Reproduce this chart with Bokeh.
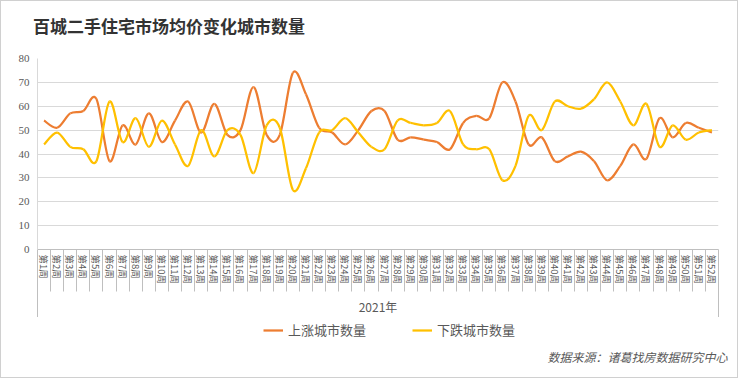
import numpy as np
from bokeh.plotting import figure
from bokeh.layouts import column
from bokeh.models import (FixedTicker, Range1d, Legend, LegendItem, Title, LinearAxis,
                          CustomJSTickFormatter, Div)
from bokeh.embed import file_html
from bokeh.resources import INLINE

# ---------------- data ----------------
weeks = list(range(1, 53))
week_labels = [f"第{w}周" for w in weeks]
year_label = "2021年"
series_names = ["上涨城市数量", "下跌城市数量"]
up_counts = [54, 51, 57, 58, 63, 37, 52, 44, 57, 45, 54, 62, 49, 61, 48, 50, 68, 48, 48, 74,
             65, 51, 49, 44, 50, 58, 58, 46, 47, 46, 45, 42, 53, 56, 55, 70, 62, 44, 47, 37,
             39, 41, 37, 29, 35, 44, 38, 55, 47, 53, 51, 49]
down_counts = [44, 49, 43, 42, 37, 62, 45, 55, 43, 54, 44, 35, 50, 39, 50, 48, 32, 52, 51, 25,
               34, 49, 50, 55, 49, 43, 42, 54, 53, 52, 53, 58, 44, 42, 42, 29, 35, 56, 50, 62,
               60, 59, 63, 70, 62, 52, 61, 43, 52, 46, 49, 50]
y_ticks = [0, 10, 20, 30, 40, 50, 60, 70, 80]
title_text = "百城二手住宅市场均价变化城市数量"
source_text = "数据来源：诸葛找房数据研究中心"

ORANGE = "#ED7D31"
YELLOW = "#FFC000"
COLORS = [ORANGE, YELLOW]
TXT = "#595959"
GRID = "#d9d9d9"
AXIS = "#bfbfbf"
CJK = "Noto Sans CJK SC"


def smooth_segments(xs, ys):
    """Catmull-Rom style cubic Bezier control points (like Excel 'smoothed line')."""
    x = np.asarray(xs, float)
    y = np.asarray(ys, float)
    n = len(x)
    xp = np.concatenate([[x[0]], x, [x[-1]]])
    yp = np.concatenate([[y[0]], y, [y[-1]]])
    return dict(
        x0=xp[1:n], y0=yp[1:n],
        x1=xp[2:n + 1], y1=yp[2:n + 1],
        cx0=xp[1:n] + (xp[2:n + 1] - xp[0:n - 1]) / 6.0,
        cy0=yp[1:n] + (yp[2:n + 1] - yp[0:n - 1]) / 6.0,
        cx1=xp[2:n + 1] - (xp[3:n + 2] - xp[1:n]) / 6.0,
        cy1=yp[2:n + 1] - (yp[3:n + 2] - yp[1:n]) / 6.0,
    )


W = 736
H0 = 40
H1 = 276
H2 = 60

# ---------------- title strip ----------------
head = Div(text=title_text, width=W, height=H0, margin=0,
           styles={"font-family": "'Noto Sans CJK SC'", "font-size": "17px",
                   "font-weight": "bold", "color": "#333333", "line-height": "21px",
                   "padding-top": "14px", "padding-left": "32px",
                   "box-sizing": "border-box", "white-space": "nowrap"})

# ---------------- main chart ----------------
p = figure(width=W, height=H1, output_backend="svg", toolbar_location=None,
           x_range=Range1d(0.5, 52.5), y_range=Range1d(0, 80),
           min_border_left=36, min_border_right=19, min_border_top=17, min_border_bottom=67)
p.outline_line_color = None
p.background_fill_color = "white"
p.border_fill_color = "white"
p.title.text = ""
p.title.text_font_size = "1px"
p.title.standoff = 0

# curves
for vals, col in [(up_counts, ORANGE), (down_counts, YELLOW)]:
    seg = smooth_segments(weeks, vals)
    p.bezier(line_color=col, line_width=2.25, **seg)

# y axis
p.yaxis.ticker = FixedTicker(ticks=y_ticks)
p.yaxis.major_tick_out = 0
p.yaxis.major_tick_in = 0
p.yaxis.minor_tick_line_color = None
p.yaxis.axis_line_color = GRID
p.yaxis.major_label_text_font = "Liberation Serif"
p.yaxis.major_label_text_font_size = "11px"
p.yaxis.major_label_text_color = TXT
p.yaxis.major_label_standoff = 8
p.ygrid.grid_line_color = GRID
p.xgrid.grid_line_color = None

# x axis: labels at week centres, separators as minor ticks at category edges
p.xaxis.ticker = FixedTicker(ticks=weeks, minor_ticks=[w - 0.5 for w in weeks] + [52.5])
p.xaxis.major_label_overrides = {w: lab for w, lab in zip(weeks, week_labels)}
p.xaxis.major_label_orientation = "vertical"
p.xaxis.major_tick_out = 0
p.xaxis.major_tick_in = 0
p.xaxis.minor_tick_out = 42
p.xaxis.minor_tick_in = 0
p.xaxis.minor_tick_line_color = AXIS
p.xaxis.axis_line_color = AXIS
p.xaxis.major_label_text_font = CJK
p.xaxis.major_label_text_font_size = "9.5px"
p.xaxis.major_label_text_color = TXT
p.xaxis.major_label_standoff = -37

# second level of the category axis: outer boundary lines + year label
ax2 = LinearAxis(ticker=FixedTicker(ticks=[0.5, 52.5]),
                 formatter=CustomJSTickFormatter(code="return ''"),
                 axis_line_color=None, major_tick_out=30, major_tick_in=0,
                 major_tick_line_color=AXIS, minor_tick_line_color=None,
                 major_label_standoff=0, major_label_text_font_size="1px",
                 axis_label=year_label, axis_label_text_font=CJK,
                 axis_label_text_font_size="12px", axis_label_text_font_style="normal",
                 axis_label_text_color=TXT, axis_label_standoff=-20)
p.add_layout(ax2, "below")

# ---------------- legend + source strip ----------------
p2 = figure(width=W, height=H2, output_backend="svg", toolbar_location=None,
            x_range=Range1d(0, 1), y_range=Range1d(0, 1),
            x_axis_location=None, y_axis_location=None,
            min_border_left=36, min_border_right=19, min_border_top=0, min_border_bottom=32)
p2.grid.visible = False
p2.outline_line_color = None
p2.background_fill_color = "white"
p2.border_fill_color = "white"

items = []
for name, col in zip(series_names, COLORS):
    # legend-only renderers (kept outside the visible strip)
    r = p2.line(x=[-10, -9], y=[-10, -10], line_color=col, line_width=2.25)
    items.append(LegendItem(label=name, renderers=[r]))
legend = Legend(items=items, orientation="horizontal", location=(226, 6), margin=0, padding=0,
                spacing=46, glyph_width=20, glyph_height=14, label_height=14,
                label_standoff=5,
                label_text_font=CJK, label_text_font_size="13px", label_text_color=TXT,
                border_line_color=None, background_fill_alpha=0)
p2.add_layout(legend, "center")

src = Title(text=source_text, align="right", text_font=CJK, text_font_size="12px",
            text_font_style="italic", text_color=TXT, offset=-9, standoff=1)
p2.add_layout(src, "below")

layout = column(head, p, p2, spacing=0, styles={"border": "1px solid #d0d0d0"})

open("out.html", "w").write(file_html(layout, INLINE))
